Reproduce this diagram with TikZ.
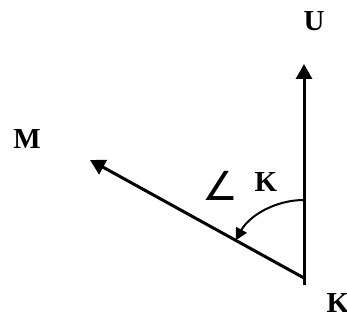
\documentclass[tikz,border=0pt]{standalone}
\usepackage{fontspec}
\setmainfont{Liberation Serif}
\newfontfamily\symbolfont{DejaVu Sans}
\usepackage{tikz}
\usetikzlibrary{arrows.meta}

\begin{document}
\begin{tikzpicture}[
    x=1pt, y=1pt,
    letter/.style={font=\fontsize{29}{33}\selectfont\bfseries, inner sep=0pt},
    vector/.style={draw=black, line width=3pt, -{Triangle[length=15pt, width=16pt]}},
    sweep/.style={draw=black, line width=2pt, -{Triangle[length=12pt, width=12pt]}}
]
    \useasboundingbox (0,0) rectangle (347,320);

    % points of the two rays
    \coordinate (base) at (304,35);
    \coordinate (vertex) at (304,42);
    \coordinate (tipU) at (304,256);
    \coordinate (tipM) at (90,160);

    % labels
    \node[letter] (lblU) at (314,299) {U};
    \node[letter] (lblM) at (27,181) {M};
    \node[letter] (lblK) at (338,17) {K};
    \node[letter] (lblKin) at (266,138) {K};
    \node[inner sep=0pt, font=\symbolfont\fontsize{40}{46}\selectfont] (lblAngle) at (220,134) {∠};

    % rays
    \draw[vector] (base) -- (tipU);
    \draw[vector] (vertex) -- (tipM);

    % angle sweep from U towards M
    \draw[sweep] ([shift={(90:78)}]vertex) arc[start angle=90, end angle=151.1, radius=78];
\end{tikzpicture}
\end{document}
